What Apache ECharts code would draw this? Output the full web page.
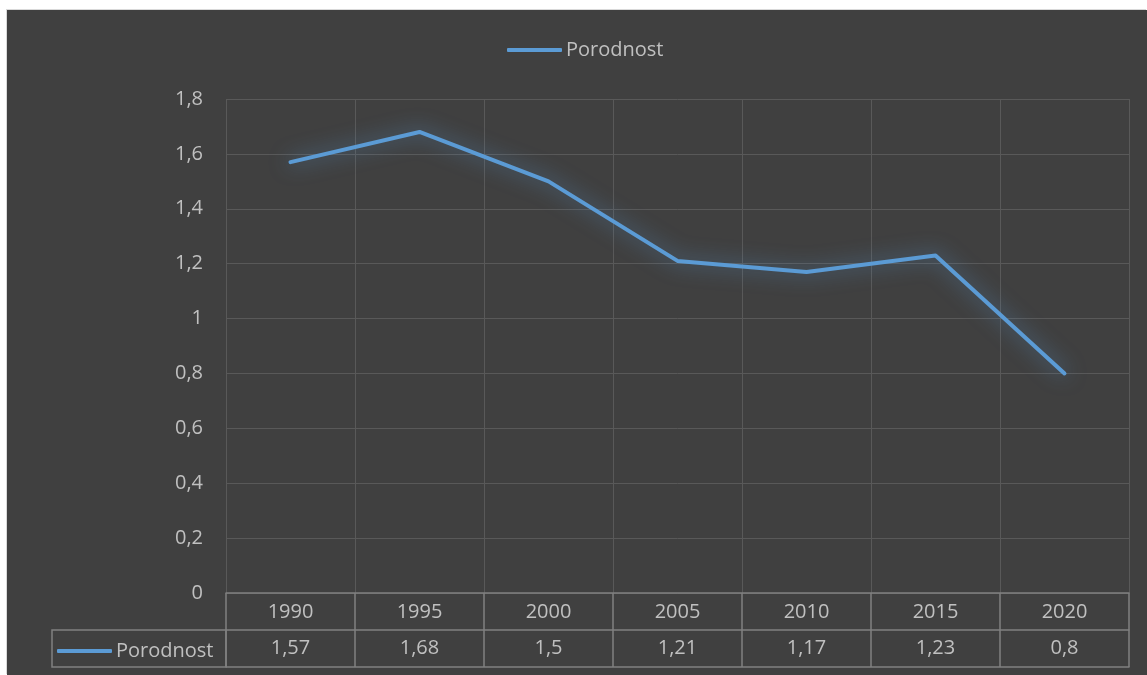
<!DOCTYPE html>
<html>
<head>
<meta charset="utf-8">
<script src="https://cdn.jsdelivr.net/npm/echarts@6/dist/echarts.min.js"></script>
<style>
  body { margin: 0; background: #ffffff; }
  #chart {
    position: absolute;
    left: 7px;
    top: 10px;
    width: 1140px;
    height: 665px;
    background: #404040;
    box-shadow: -1px -1px 0 #d9d9d9;
  }
</style>
</head>
<body>
<div id="chart"></div>
<script>
const years = ['1990', '1995', '2000', '2005', '2010', '2015', '2020'];
const porodnost = [1.57, 1.68, 1.5, 1.21, 1.17, 1.23, 0.8];
const seriesName = 'Porodnost';

const fmt = v => String(+(+v).toFixed(2)).replace('.', ',');
const textColor = '#c0c0c0';
const gridColor = '#595959';
const tableColor = '#808080';
const font = 'Open Sans';

const myEchart = echarts.init(document.getElementById('chart'));

const options = {
  animation: false,
  textStyle: { fontFamily: font },
  legend: [
    {
      data: [seriesName],
      left: 495,
      top: 25,
      icon: 'roundRect',
      itemWidth: 55,
      itemHeight: 4,
      itemGap: 4,
      textStyle: { color: textColor, fontSize: 20, fontFamily: font, padding: [0, 0, 0, -1] }
    },
    {
      data: [seriesName],
      left: 45,
      top: 626,
      icon: 'roundRect',
      itemWidth: 55,
      itemHeight: 4,
      textStyle: { color: textColor, fontSize: 20, fontFamily: font, padding: [0, 0, 0, -1] }
    }
  ],
  grid: { left: 219, right: 18, top: 89, bottom: 82 },
  xAxis: [
    {
      type: 'category',
      data: years,
      boundaryGap: true,
      axisLine: { show: true, lineStyle: { color: tableColor, width: 1.5 } },
      axisTick: { show: true, length: 37, lineStyle: { color: tableColor, width: 1.5 } },
      axisLabel: { color: textColor, fontSize: 20, margin: 9, fontFamily: font },
      splitLine: { show: true, lineStyle: { color: gridColor, width: 1 } }
    },
    {
      type: 'category',
      data: porodnost.map(fmt),
      position: 'bottom',
      offset: 37,
      boundaryGap: true,
      axisLine: { show: true, lineStyle: { color: tableColor, width: 1.5 } },
      axisTick: { show: true, length: 37, lineStyle: { color: tableColor, width: 1.5 } },
      axisLabel: { color: textColor, fontSize: 20, margin: 8, fontFamily: font },
      splitLine: { show: false }
    },
    {
      type: 'category',
      data: years,
      position: 'bottom',
      offset: 74,
      axisLine: { show: true, lineStyle: { color: tableColor, width: 1.5 } },
      axisTick: { show: false },
      axisLabel: { show: false },
      splitLine: { show: false }
    }
  ],
  yAxis: {
    type: 'value',
    min: 0,
    max: 1.8,
    interval: 0.2,
    axisLine: { show: false },
    axisTick: { show: false },
    axisLabel: { color: textColor, fontSize: 20, margin: 23, fontFamily: font, formatter: v => fmt(v) },
    splitLine: { lineStyle: { color: gridColor, width: 1 } }
  },
  graphic: [
    {
      type: 'rect',
      shape: { x: 45, y: 620, width: 174, height: 37 },
      style: { fill: 'none', stroke: tableColor, lineWidth: 1.5 },
      silent: true
    }
  ],
  series: [
    {
      name: seriesName,
      type: 'line',
      data: porodnost,
      showSymbol: false,
      symbol: 'none',
      color: '#5b9bd5',
      lineStyle: {
        color: '#5b9bd5',
        width: 4,
        cap: 'round',
        join: 'round',
        shadowColor: 'rgba(91,155,213,0.75)',
        shadowBlur: 20
      }
    }
  ]
};

myEchart.setOption(options);
</script>
</body>
</html>
